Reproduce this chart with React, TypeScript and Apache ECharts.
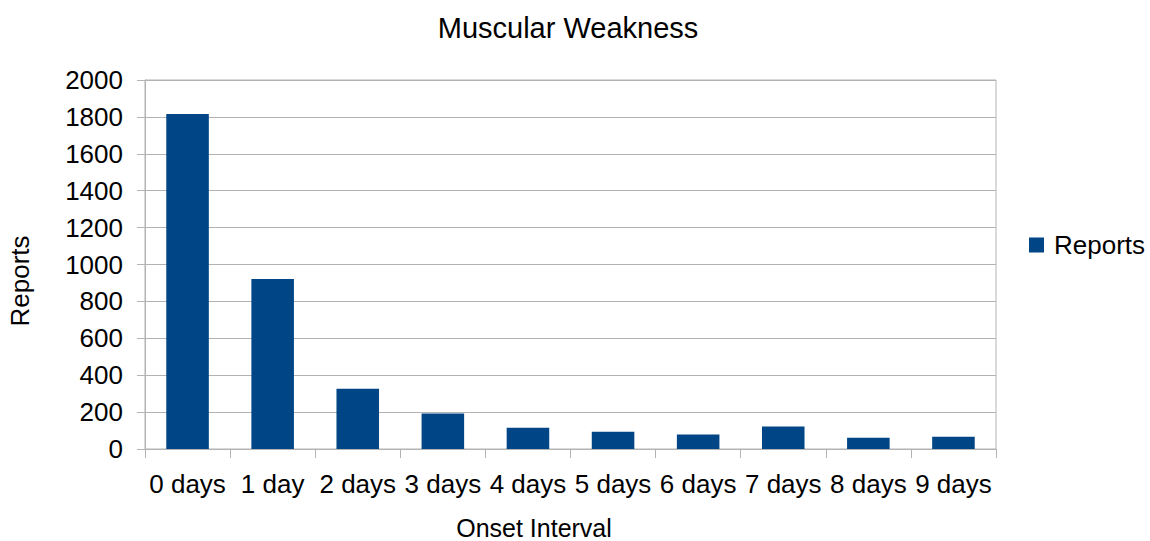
import React, { useEffect, useRef } from "react";
import * as echarts from "echarts";

const categories = ["0 days", "1 day", "2 days", "3 days", "4 days", "5 days", "6 days", "7 days", "8 days", "9 days"];
const reports = [1816, 922, 327, 193, 115, 94, 79, 122, 61, 67];
const seriesName = "Reports";
const titleText = "Muscular Weakness";
const xAxisName = "Onset Interval";
const yAxisName = "Reports";

const FONT = "'Liberation Sans', Arial, sans-serif";
const GREY = "#b3b3b3";

export default function App() {
  const ref = useRef<HTMLDivElement>(null);
  useEffect(() => {
    if (!ref.current) return;
    const chart = echarts.init(ref.current, undefined, { renderer: "svg" });
    chart.setOption({
      animation: false,
      backgroundColor: "#ffffff",
      title: {
        text: titleText,
        left: 568,
        top: 13,
        padding: 0,
        textAlign: "center",
        textStyle: { fontFamily: FONT, fontSize: 29, fontWeight: "normal", color: "#000" },
      },
      legend: {
        data: [seriesName],
        orient: "vertical",
        left: 1029,
        top: 232,
        padding: 0,
        itemWidth: 15,
        itemHeight: 15,
        icon: "rect",
        textStyle: { fontFamily: FONT, fontSize: 26, color: "#000", padding: [0, 0, 0, 5] },
      },
      grid: {
        left: 145,
        right: 154,
        top: 80,
        bottom: 92,
        show: true,
        borderColor: GREY,
        borderWidth: 1,
        containLabel: false,
      },
      xAxis: {
        type: "category",
        data: categories,
        axisLine: { show: true, lineStyle: { color: GREY } },
        axisTick: { show: true, length: 9, interval: 0, alignWithLabel: false, lineStyle: { color: GREY } },
        axisLabel: { interval: 0, margin: 22, fontFamily: FONT, fontSize: 26, color: "#000" },
        splitLine: { show: false },
      },
      yAxis: {
        type: "value",
        min: 0,
        max: 2000,
        interval: 200,
        axisLine: { show: true, lineStyle: { color: GREY } },
        axisTick: { show: true, length: 8, lineStyle: { color: GREY } },
        axisLabel: { margin: 22, fontFamily: FONT, fontSize: 26, color: "#000", formatter: (v: number) => String(v) },
        splitLine: { show: true, lineStyle: { color: GREY } },
      },
      graphic: [
        {
          type: "text",
          x: 534,
          y: 528,
          style: { text: xAxisName, fontFamily: FONT, fontSize: 25, fill: "#000", textAlign: "center", textVerticalAlign: "middle" },
        },
        {
          type: "text",
          x: 20,
          y: 281,
          rotation: Math.PI / 2,
          style: { text: yAxisName, fontFamily: FONT, fontSize: 26, fill: "#000", textAlign: "center", textVerticalAlign: "middle" },
        },
      ],
      series: [
        {
          name: seriesName,
          type: "bar",
          data: reports,
          barWidth: "50%",
          itemStyle: { color: "#004586" },
        },
      ],
    });
    return () => chart.dispose();
  }, []);
  return <div ref={ref} style={{ width: 1150, height: 541, position: "absolute", left: 0, top: 0 }} />;
}
